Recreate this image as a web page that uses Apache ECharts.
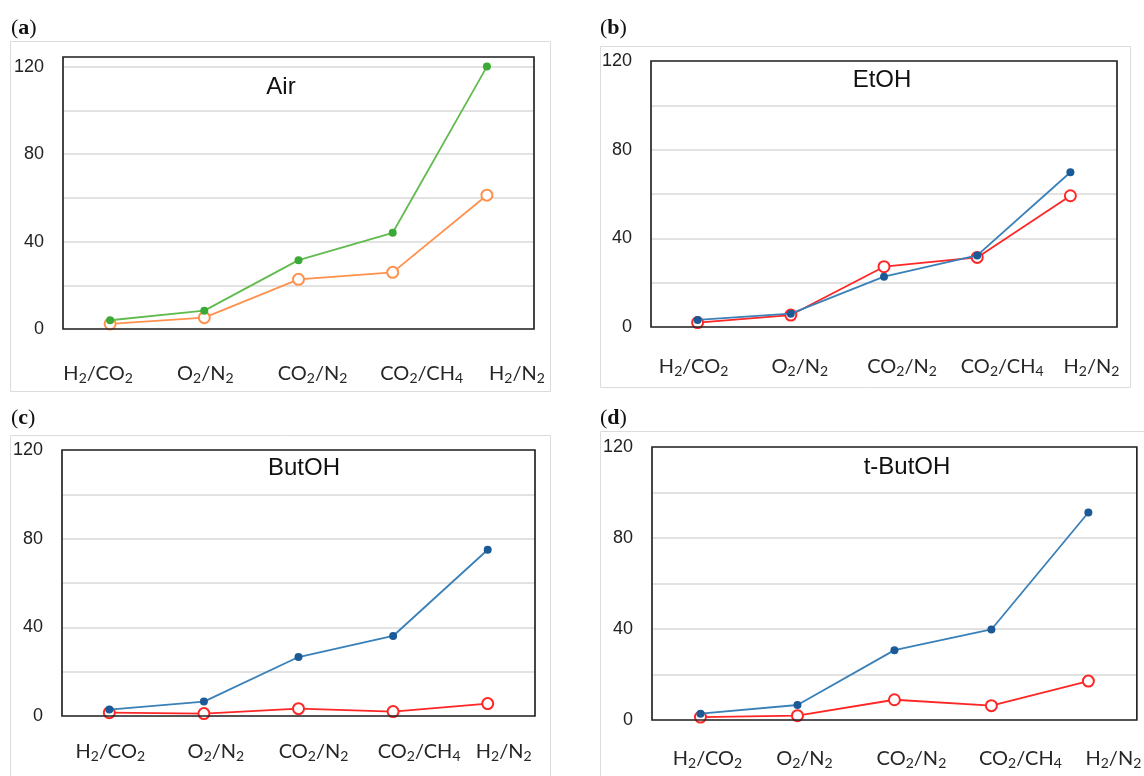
<!DOCTYPE html>
<html>
<head>
<meta charset="utf-8">
<script src="https://cdn.jsdelivr.net/npm/echarts@6/dist/echarts.min.js"></script>
<style>
  html, body { margin: 0; padding: 0; background: #ffffff; }
  #chart { width: 1144px; height: 776px; }
</style>
</head>
<body>
<div id="chart"></div>
<script>
// ---------------- DATA ----------------
const categories = ['H2/CO2', 'O2/N2', 'CO2/N2', 'CO2/CH4', 'H2/N2'];
const yTickLabels = [0, 40, 80, 120];
const panelLetters = ['a', 'b', 'c', 'd'];
const panelTitles = ['Air', 'EtOH', 'ButOH', 't-ButOH'];

const airFilled = [4, 8.4, 31.5, 44, 120];
const airOpen = [2.3, 5.2, 22.7, 25.9, 61.2];
const etohFilled = [3.2, 6, 22.7, 32.3, 69.8];
const etohOpen = [2, 5.4, 27.2, 31.4, 59.2];
const butohFilled = [2.9, 6.5, 26.6, 36.1, 75];
const butohOpen = [1.5, 1.1, 3.3, 2, 5.6];
const tbutohFilled = [2.8, 6.6, 30.7, 39.8, 91.2];
const tbutohOpen = [1.3, 1.9, 8.9, 6.3, 17.1];

// ---------------- LAYOUT / STYLE ----------------
const panels = [
  { grid: { left: 63, top: 57, width: 471, height: 272 }, yMax: 124.4, labelMargin: 34,
    shift: [-12, 1, 14, 29, 30], box: [10.5, 41.5, 540, 350], letterPos: [11, 28], titlePos: [281, 87],
    filled: airFilled, open: airOpen,
    filledLine: '#62bb4e', filledDot: '#3aa935', openColor: '#ff914d' },
  { grid: { left: 651, top: 61, width: 466, height: 266 }, yMax: 120, labelMargin: 29,
    shift: [-4, 9, 18, 25, 21], box: [600.5, 46.5, 530, 341], letterPos: [600, 28], titlePos: [882, 80],
    filled: etohFilled, open: etohOpen,
    filledLine: '#3a80b8', filledDot: '#1b5a96', openColor: '#ff2626' },
  { grid: { left: 62, top: 450, width: 473, height: 266 }, yMax: 120, labelMargin: 25,
    shift: [1, 12, 15, 26, 16], box: [10.5, 435.5, 540, 360], letterPos: [11, 418], titlePos: [304, 468],
    filled: butohFilled, open: butohOpen,
    filledLine: '#3a80b8', filledDot: '#1b5a96', openColor: '#ff2626' },
  { grid: { left: 652, top: 447, width: 489, height: 273 }, yMax: 120, labelMargin: 28,
    shift: [7, 7, 17, 29, 25], box: [600.5, 431.5, 560, 360], letterPos: [600, 418], titlePos: [907, 467],
    filled: tbutohFilled, open: tbutohOpen,
    filledLine: '#3a80b8', filledDot: '#1b5a96', openColor: '#ff2626' }
];

const chart = echarts.init(document.getElementById('chart'), null, { renderer: 'canvas' });

const grids = [], xAxes = [], yAxes = [], series = [], graphics = [];
panels.forEach(function (p, i) {
  grids.push(Object.assign({ show: true, z: 6, borderColor: '#262626', borderWidth: 1.7, backgroundColor: 'transparent', containLabel: false }, p.grid));

  const rich = {
    n: { fontFamily: 'Lato', fontSize: 20, lineHeight: 22, color: '#262626' },
    s: { fontFamily: 'Lato', fontSize: 14, lineHeight: 13, verticalAlign: 'bottom', color: '#262626' }
  };
  p.shift.forEach(function (d, k) {
    const w = Math.abs(d) * 2;
    rich['L' + k] = { width: d > 0 ? w : 0, fontSize: 1, lineHeight: 22 };
    rich['R' + k] = { width: d < 0 ? w : 0, fontSize: 1, lineHeight: 22 };
  });

  xAxes.push({
    type: 'category', gridIndex: i, data: categories, boundaryGap: true,
    axisLine: { show: false }, axisTick: { show: false }, splitLine: { show: false },
    axisLabel: {
      interval: 0, margin: p.labelMargin, rich: rich,
      formatter: function (val, idx) {
        const body = val.replace(/(\d)/g, '}{s|$1}{n|');
        return '{L' + idx + '| }{n|' + body + '}{R' + idx + '| }';
      }
    }
  });
  yAxes.push({
    type: 'value', gridIndex: i, min: 0, max: p.yMax, interval: 20,
    axisLine: { show: false }, axisTick: { show: false },
    splitLine: { show: true, lineStyle: { color: '#d9d9d9', width: 1.5 } },
    axisLabel: {
      margin: 19, fontFamily: 'Liberation Sans', fontSize: 18, color: '#222',
      showMaxLabel: true,
      formatter: function (v) { return yTickLabels.indexOf(v) >= 0 ? String(v) : ''; }
    }
  });
  series.push({
    type: 'line', xAxisIndex: i, yAxisIndex: i, data: p.open,
    symbol: 'emptyCircle', symbolSize: 11,
    lineStyle: { color: p.openColor, width: 1.8 },
    itemStyle: { color: p.openColor, borderColor: p.openColor, borderWidth: 1.6 },
    z: 2
  });
  series.push({
    type: 'line', xAxisIndex: i, yAxisIndex: i, data: p.filled,
    symbol: 'circle', symbolSize: 8,
    lineStyle: { color: p.filledLine, width: 1.8 },
    itemStyle: { color: p.filledDot, borderWidth: 0 },
    z: 3
  });

  graphics.push({
    type: 'rect', shape: { x: p.box[0], y: p.box[1], width: p.box[2], height: p.box[3] },
    style: { fill: 'none', stroke: '#dcdcdc', lineWidth: 1 }, z: -10, silent: true
  });
  graphics.push({
    type: 'text', x: p.letterPos[0], y: p.letterPos[1],
    style: {
      text: '{p|(}{b|' + panelLetters[i] + '}{p|)}',
      textVerticalAlign: 'middle', textAlign: 'left',
      rich: {
        p: { fontFamily: 'Liberation Serif', fontSize: 22, fill: '#111' },
        b: { fontFamily: 'Liberation Serif', fontSize: 22, fontWeight: 'bold', fill: '#111' }
      }
    }
  });
  graphics.push({
    type: 'text', x: p.titlePos[0], y: p.titlePos[1],
    style: {
      text: panelTitles[i], fontFamily: 'Liberation Sans', fontSize: 24, fill: '#111',
      textAlign: 'center', textVerticalAlign: 'middle'
    }
  });
});

chart.setOption({
  animation: false,
  backgroundColor: '#ffffff',
  grid: grids,
  xAxis: xAxes,
  yAxis: yAxes,
  series: series,
  graphic: graphics
});
</script>
</body>
</html>
